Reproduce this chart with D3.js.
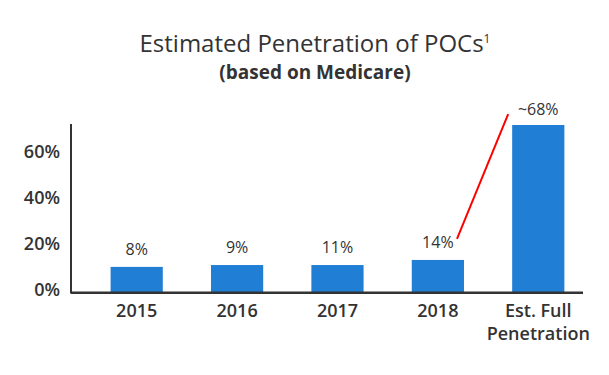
<!DOCTYPE html>
<html>
<head>
<meta charset="utf-8">
<script src="https://cdn.jsdelivr.net/npm/d3@7"></script>
<style>
  body { margin: 0; background: #fff; }
  text { font-family: "Open Sans", Lato, sans-serif; fill: #333; }
</style>
</head>
<body>
<div id="chart"></div>
<script>
var categories = [["2015"], ["2016"], ["2017"], ["2018"], ["Est. Full", "Penetration"]];
var barValues = [10, 10.8, 10.8, 13, 71.4];
var valueLabels = ["8%", "9%", "11%", "14%", "~68%"];
var yTicks = [0, 20, 40, 60];

var width = 609, height = 375;
var margin = {top: 124, left: 71, right: 26, bottom: 83};
var baseY = height - margin.bottom;

var svg = d3.select("#chart").append("svg")
    .attr("width", width)
    .attr("height", height);

var keys = categories.map(function(d) { return d.join(" "); });

var x = d3.scaleBand()
    .domain(keys)
    .range([margin.left, width - margin.right])
    .paddingInner(0.48)
    .paddingOuter(0.29)
    .align(0.68);

var y = d3.scaleLinear()
    .domain([0, 72.7])
    .range([290, 122]);

// Title
svg.append("text")
    .attr("x", 315)
    .attr("y", 51.5)
    .attr("text-anchor", "middle")
    .style("font-size", "24px")
    .text("Estimated Penetration of POCs")
    .append("tspan")
    .attr("dy", -9)
    .style("font-size", "12px")
    .text("1");

svg.append("text")
    .attr("x", 315)
    .attr("y", 79)
    .attr("text-anchor", "middle")
    .style("font-size", "19px")
    .style("font-weight", "bold")
    .text("(based on Medicare)");

// Y axis labels
var yAxis = svg.append("g")
    .attr("transform", "translate(" + margin.left + ",0)")
    .call(d3.axisLeft(y).tickValues(yTicks).tickSize(0).tickPadding(11)
        .tickFormat(function(d) { return d + "%"; }));
yAxis.select(".domain").remove();
yAxis.selectAll("text")
    .style("font-family", "'Open Sans', Lato, sans-serif")
    .style("font-size", "18px")
    .style("font-weight", "600")
    .attr("fill", "#333");

// Bars
svg.selectAll("rect.bar")
    .data(barValues)
    .enter()
    .append("rect")
    .attr("class", "bar")
    .attr("x", function(d, i) { return x(keys[i]); })
    .attr("y", function(d) { return y(d); })
    .attr("width", x.bandwidth())
    .attr("height", function(d) { return baseY - y(d); })
    .style("fill", "#207ed5");

// Value labels
svg.selectAll("text.val")
    .data(barValues)
    .enter()
    .append("text")
    .attr("class", "val")
    .attr("x", function(d, i) { return x(keys[i]) + x.bandwidth() / 2; })
    .attr("y", function(d, i) { return y(d) - (i == 4 ? 10 : 12); })
    .attr("text-anchor", "middle")
    .style("font-size", "16px")
    .style("font-weight", "500")
    .text(function(d, i) { return valueLabels[i]; });

// Axis lines
svg.append("line")
    .attr("x1", margin.left).attr("x2", margin.left)
    .attr("y1", margin.top).attr("y2", baseY + 1.5)
    .attr("stroke", "#333").attr("stroke-width", 2);
svg.append("line")
    .attr("x1", margin.left).attr("x2", width - margin.right)
    .attr("y1", baseY + 0.7).attr("y2", baseY + 0.7)
    .attr("stroke", "#333").attr("stroke-width", 2.5);

// X labels
var xl = svg.selectAll("text.cat")
    .data(categories)
    .enter()
    .append("text")
    .attr("class", "cat")
    .attr("x", function(d, i) { return x(keys[i]) + x.bandwidth() / 2; })
    .attr("y", 317)
    .attr("text-anchor", "middle")
    .style("font-size", "18px")
    .style("font-weight", "600");
xl.selectAll("tspan")
    .data(function(d) { return d; })
    .enter()
    .append("tspan")
    .attr("x", function() { return d3.select(this.parentNode).attr("x"); })
    .attr("dy", function(d, i) { return i ? 23 : 0; })
    .text(function(d) { return d; });

// Red connector from 2018 to estimate
var b18 = x(keys[3]), bEst = x(keys[4]);
svg.append("line")
    .attr("x1", b18 + x.bandwidth() - 7)
    .attr("y1", y(barValues[3]) - 21)
    .attr("x2", bEst - 4)
    .attr("y2", y(barValues[4]) - 11)
    .attr("stroke", "#ff0000")
    .attr("stroke-width", 2);
</script>
</body>
</html>
